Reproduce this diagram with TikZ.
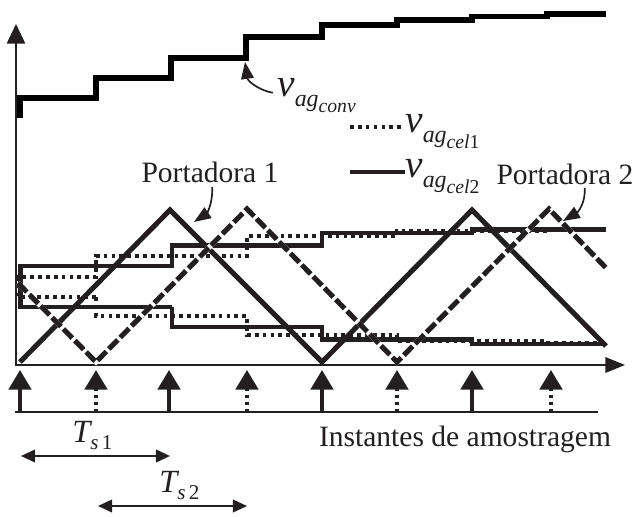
\documentclass[tikz,border=0pt]{standalone}
\usepackage{fontspec}
\setmainfont{Liberation Serif}
\usepackage{xcolor}
\definecolor{figink}{RGB}{35,31,32}
\usetikzlibrary{arrows.meta}

% rótulos v_{ag_{...}} e T_{s...}
\newcommand{\vag}[2]{{\fontsize{28}{28}\selectfont\itshape v}\raisebox{-6.5pt}{\fontsize{17}{17}\selectfont\itshape ag\raisebox{-4.5pt}{\fontsize{14}{14}\selectfont\itshape #1\upshape #2}}}
\newcommand{\tsub}[2]{{\itshape T}\raisebox{-5.5pt}{\fontsize{15}{15}\selectfont\itshape #1\,\upshape #2}}

\begin{document}
\begin{tikzpicture}[x=0.025cm, y=-0.025cm, >={Triangle[length=10pt, width=9pt]},
    level/.style={line width=2.9pt, figink},
    celldot/.style={level, dash pattern=on 2.6pt off 3pt},
    carrier/.style={line width=3.6pt, figink, miter limit=4},
    sample/.style={line width=2.6pt, figink, -{Triangle[length=14pt, width=16pt]}},
    lbl/.style={inner sep=0pt, text=figink, font=\fontsize{21}{25}\selectfont}]

\useasboundingbox (0,0) rectangle (638,517);

% === Eixos ===
\draw[line width=1.5pt, figink, -{Triangle[length=14pt, width=13pt]}] (16,366) -- (16,24);
\draw[line width=1.5pt, figink, -{Triangle[length=14pt, width=11pt]}] (16,365) -- (625,365);

% === Tensão do conversor (escada) ===
\draw[line width=3.6pt, black] (20,118) -- (20,98) -- (96,98) -- (96,78) -- (171,78) -- (171,58)
    -- (246,58) -- (246,37) -- (322,37) -- (322,25) -- (397,25) -- (397,20) -- (472,20)
    -- (472,16.5) -- (547,16.5) -- (547,14) -- (606,14);
\coordinate (conv3) at (245,62);

% === Tensão da célula 1 (pontilhada) ===
\draw[celldot] (96,297) -- (18,297) -- (18,277) -- (96,277) -- (96,256) -- (247,256) -- (247,236)
    -- (397,236) -- (397,231) -- (548,231) -- (548,229) -- (606,229);
\draw[celldot] (96,297) -- (96,316) -- (247,316) -- (247,335) -- (397,335) -- (397,341)
    -- (548,341) -- (548,343) -- (606,343);

% === Tensão da célula 2 (contínua) ===
\draw[level] (172,307) -- (20.5,307) -- (20.5,266) -- (172,266) -- (172,245.5) -- (322,245.5)
    -- (322,233) -- (472,233) -- (472,229.5) -- (606,229.5);
\draw[level] (172,307) -- (172,327) -- (322,327) -- (322,339.5) -- (472,339.5) -- (472,344) -- (606,344);

% === Portadoras ===
\draw[carrier] (20,362) -- (170,210) -- (322,362) -- (472,210) -- (606,346);
\draw[carrier, dash pattern=on 9pt off 2.5pt, preaction={draw, white, solid, line width=3.6pt}]
    (18,283) -- (96,362) -- (247,209) -- (397,362) -- (549,209) -- (608,270);
\coordinate (tip1) at (194,222);
\coordinate (tip2) at (563,221);

% === Instantes de amostragem ===
\draw[line width=1.8pt, figink] (15,412) -- (598,412);
\foreach \xs in {20,169,322,472} {
    \draw[sample] (\xs,412) -- (\xs,370);
}
\foreach \xs in {96,247,397,551} {
    \draw[sample, dash pattern=on 2.4pt off 2.6pt] (\xs,412) -- (\xs,370);
}

% === Legenda ===
\draw[celldot] (350,127) -- (401,127);
\draw[line width=3.2pt, figink] (350,172) -- (405,172);
\node[lbl, anchor=base west] (vcel1) at (405,133) {\vag{cel}{1}};
\node[lbl, anchor=base west] (vcel2) at (405,178) {\vag{cel}{2}};
\node[lbl, anchor=base west] (vconv) at (277,97) {\vag{conv}{}};

% === Rótulos ===
\node[lbl, anchor=base] (port1) at (210,183) {Portadora 1};
\node[lbl, anchor=base] (port2) at (565,185) {Portadora 2};
\node[lbl, anchor=base] (inst) at (465,446) {Instantes de amostragem};

\draw[figink, line width=1.2pt, -{Triangle[length=12pt, width=9pt]}]
    ([xshift=-3pt, yshift=3pt]vconv.base west) .. controls +(-12,-2) and +(3,20) .. (conv3);
\draw[figink, line width=1.2pt, -{Triangle[length=12pt, width=9pt]}]
    ([xshift=1.5pt, yshift=-3pt]port1.base) .. controls +(1,17) and +(12,-8) .. (tip1);
\draw[figink, line width=1.2pt, -{Triangle[length=12pt, width=9pt]}]
    ([xshift=14pt, yshift=-2pt]port2.base) .. controls +(1,15) and +(15,-9) .. (tip2);

% === Períodos de amostragem ===
\coordinate (ts1a) at (21,456);
\coordinate (ts1b) at (170,456);
\coordinate (ts2a) at (98,506);
\coordinate (ts2b) at (247,506);
\draw[<->, line width=1.3pt, figink] (ts1a) -- (ts1b);
\draw[<->, line width=1.3pt, figink] (ts2a) -- (ts2b);
\node[lbl, anchor=base west, font=\fontsize{23}{26}\selectfont] (ts1) at (72,442) {\tsub{s}{1}};
\node[lbl, anchor=base west, font=\fontsize{23}{26}\selectfont] (ts2) at (159,492) {\tsub{s}{2}};

\end{tikzpicture}
\end{document}
